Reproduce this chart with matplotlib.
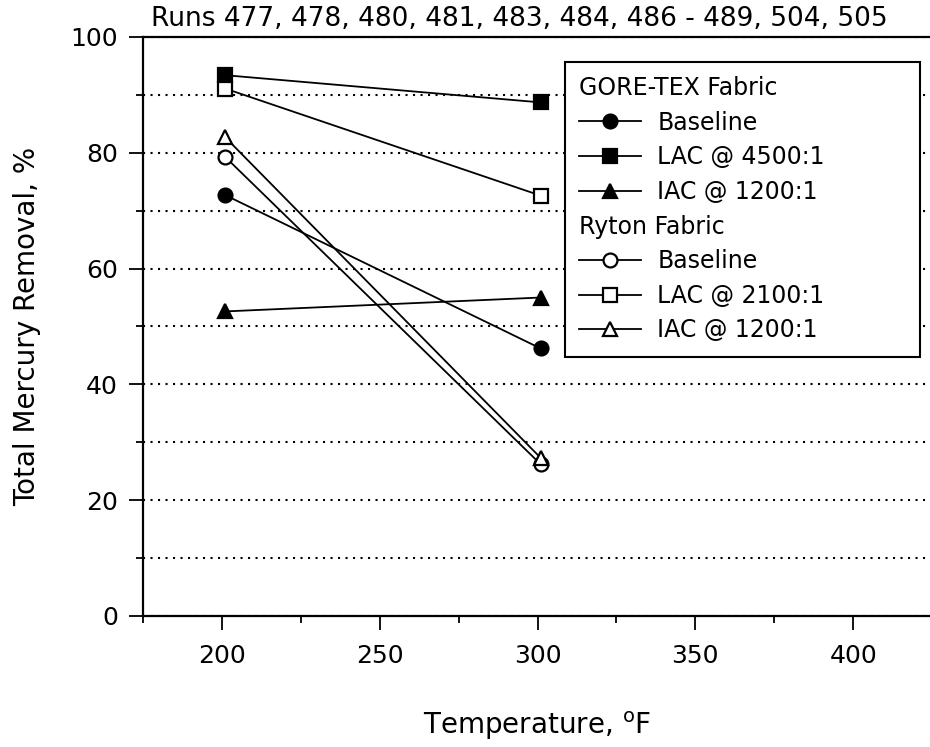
import matplotlib
matplotlib.use('Agg')
import matplotlib.pyplot as plt
from matplotlib.lines import Line2D
from matplotlib.ticker import MultipleLocator

# data
temps = [201, 301]
gore_baseline = [72.7, 46.2]
gore_lac = [93.4, 88.7]
gore_iac = [52.6, 55.0]
ryton_baseline = [79.3, 26.2]
ryton_lac = [91.1, 72.6]
ryton_iac = [82.7, 27.3]

title = 'Runs 477, 478, 480, 481, 483, 484, 486 - 489, 504, 505'

plt.rcParams['font.family'] = ['DejaVu Sans']

fig = plt.figure(figsize=(9.3, 7.47), dpi=100)
ax = fig.add_axes([0.1538, 0.1754, 0.8484, 0.7751])

lw = 1.3
ms = 10
series = [
    (gore_baseline, 'o', 'black'),
    (gore_lac, 's', 'black'),
    (gore_iac, '^', 'black'),
    (ryton_baseline, 'o', 'white'),
    (ryton_lac, 's', 'white'),
    (ryton_iac, '^', 'white'),
]
for vals, mk, fc in series:
    ax.plot(temps, vals, color='black', lw=lw, marker=mk, ms=ms,
            mfc=fc, mec='black', mew=1.6, zorder=3)

ax.set_xlim(175, 425)
ax.set_ylim(0, 100)
ax.xaxis.set_major_locator(MultipleLocator(50))
ax.xaxis.set_minor_locator(MultipleLocator(25))
ax.yaxis.set_major_locator(MultipleLocator(20))
ax.yaxis.set_minor_locator(MultipleLocator(10))

ax.tick_params(which='major', direction='out', length=10, width=1.3,
               labelsize=18, pad=10)
ax.tick_params(which='minor', direction='out', length=5, width=1.3)
ax.tick_params(axis='y', pad=8)

for s in ['left', 'bottom', 'top']:
    ax.spines[s].set_linewidth(1.6)
ax.spines['right'].set_visible(False)

# dotted lines every 10 %
ax.grid(axis='y', which='both', color='black', linestyle=(0, (1, 2.6)), lw=1.5)
ax.set_axisbelow(True)

ax.set_xlabel('Temperature, $^\\mathregular{o}$F', fontsize=20, labelpad=30)
ax.set_ylabel('Total Mercury Removal, %', fontsize=20, labelpad=21)

ax.text(0.01, 1.008, title, transform=ax.transAxes, ha='left', va='bottom',
        fontsize=19)

# legend with two group headers
blank = Line2D([], [], linestyle='none', marker='')
handles = [blank]
labels = ['GORE-TEX Fabric']
names = ['Baseline', 'LAC @ 4500:1', 'IAC @ 1200:1',
         'Baseline', 'LAC @ 2100:1', 'IAC @ 1200:1']
proxies = [Line2D([], [], color='black', lw=lw, marker=mk, ms=ms,
                  mfc=fc, mec='black', mew=1.6) for _, mk, fc in series]
handles += proxies[:3] + [blank] + proxies[3:]
labels += names[:3] + ['Ryton Fabric'] + names[3:]

leg = ax.legend(handles, labels, loc='upper left',
                bbox_to_anchor=(0.535, 0.957, 0.45, 0), mode='expand',
                borderaxespad=0, fontsize=17, handlelength=2.6,
                handletextpad=0.7, labelspacing=0.45, markerscale=1.0,
                fancybox=False, framealpha=1, edgecolor='black',
                borderpad=0.6)
leg.get_frame().set_linewidth(1.5)
for col in leg._legend_handle_box.get_children():
    for hp in col.get_children():
        txt = hp.get_children()[1]
        if txt.get_text() in ('GORE-TEX Fabric', 'Ryton Fabric'):
            hp.get_children()[0].width = 0
            hp.sep = 0

fig.savefig('out.png', dpi=100)
